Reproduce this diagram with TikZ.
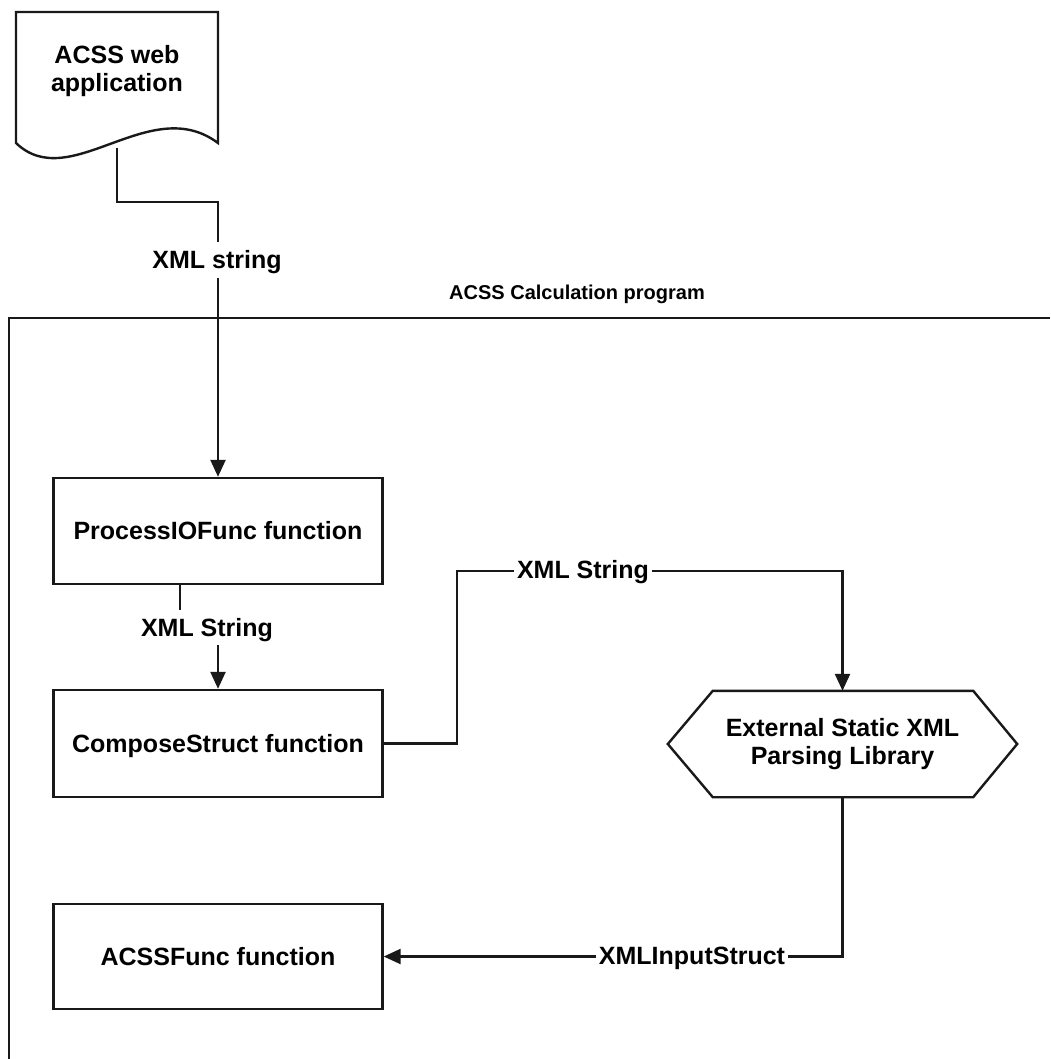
\documentclass[tikz,border=0pt]{standalone}
\usepackage{fontspec}
\setmainfont{Liberation Sans}
\usetikzlibrary{arrows.meta}
\begin{document}
\begin{tikzpicture}[x=1pt,y=-1pt,
  plain/.style={line width=2.4pt, draw=black!90, line join=miter},
  conn/.style={line width=2.4pt, draw=black!90, -{Triangle[length=17pt,width=15pt]}},
  box/.style={draw=black!90, line width=2.4pt, minimum width=329pt, minimum height=106pt, inner sep=0pt,
    font=\fontsize{25}{29}\selectfont\bfseries, text height=22.5pt, text depth=5pt},
  lbl/.style={fill=white, inner xsep=3pt, inner ysep=4pt,
    font=\fontsize{25}{29}\selectfont\bfseries, text height=22.5pt, text depth=5pt},
  ttl/.style={inner sep=0pt, font=\fontsize{20}{24}\selectfont\bfseries, text height=18pt, text depth=3.7pt},
  multi/.style={inner sep=0pt, align=center, font=\fontsize{25}{28.5}\selectfont\bfseries}
]
\useasboundingbox (0,0) rectangle (1050,1059);

% frame of the calculation program
\draw[plain] (1050,318) -- (9,318) -- (9,1059);
\node[ttl] (frametitle) at (577,292) {ACSS Calculation program};

% document shape
\draw[plain, fill=white] (16,143) -- (16,12) -- (218,12) -- (218,143)
  .. controls (150,92) and (70,195) .. (16,143) -- cycle;
\node[multi] (doc) at (117,71) {ACSS web\\application};
\coordinate (docout) at (117,148);

% boxes
\node[box] (proc) at (218,531) {ProcessIOFunc function};
\node[box, minimum height=107pt] (comp) at (218,743.5) {ComposeStruct function};
\node[box, minimum height=105pt] (acss) at (218,956.5) {ACSSFunc function};

% hexagon
\node[multi, minimum width=349pt, minimum height=106pt] (hex) at (842.5,744) {External Static XML\\Parsing Library};
\draw[plain] (hex.west) -- ([xshift=45pt]hex.north west) -- ([xshift=-44pt]hex.north east)
  -- (hex.east) -- ([xshift=-44pt]hex.south east) -- ([xshift=45pt]hex.south west) -- cycle;

% connectors
\draw[conn] (docout) -- (117,202) -| (proc.north);
\draw[conn] ([xshift=-38pt]proc.south) -- ++(0,42) -| (comp.north);
\draw[conn] (comp.east) -| (457,571) -| (hex.north);
\draw[conn] (hex.south) |- (acss.east);

% connector labels
\node[lbl] (l1) at (217,260) {XML string};
\node[lbl] (l2) at (207,627.5) {XML String};
\node[lbl] (l3) at (583,570) {XML String};
\node[lbl] (l4) at (692,956) {XMLInputStruct};
\end{tikzpicture}
\end{document}
